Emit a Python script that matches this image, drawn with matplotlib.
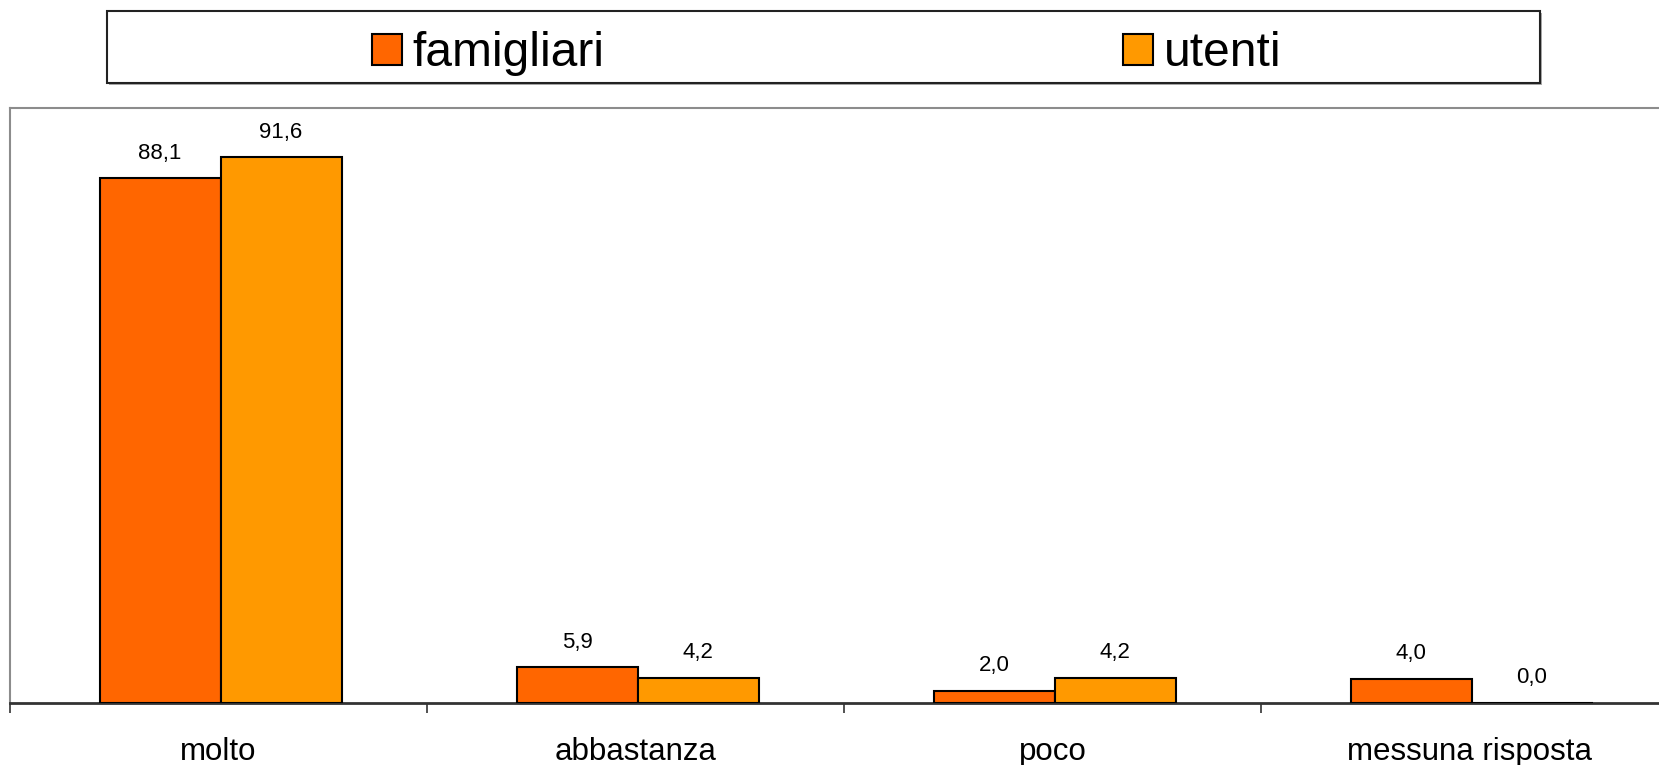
import numpy as np
import matplotlib
matplotlib.use("Agg")
import matplotlib.pyplot as plt
from matplotlib.patches import Rectangle

# dati
categorie = ["molto", "abbastanza", "poco", "messuna risposta"]
famigliari = [88.1, 5.9, 2.0, 4.0]
utenti = [91.6, 4.2, 4.2, 0.0]

plt.rcParams['font.family'] = ['Liberation Sans', 'DejaVu Sans']

W, H = 1659, 765
fig = plt.figure(figsize=(W / 100, H / 100), dpi=100)

# area del grafico (in pixel): sinistra 10, sopra 107.5, base 702.5, larghezza categoria 417
ax = fig.add_axes([10 / W, (H - 702.5) / H, 1668 / W, (702.5 - 107.5) / H])

x = np.arange(len(categorie))
w = 0.29
b1 = ax.bar(x - w / 2 + 0.005, famigliari, w, color="#FF6600", edgecolor="black",
            linewidth=1.5, label="famigliari", zorder=3)
b2 = ax.bar(x + w / 2 + 0.005, utenti, w, color="#FF9900", edgecolor="black",
            linewidth=1.5, label="utenti", zorder=3)

for barre, valori in ((b1, famigliari), (b2, utenti)):
    for r, v in zip(barre, valori):
        ax.annotate(f"{v:.1f}".replace(".", ","),
                    (r.get_x() + r.get_width() / 2, r.get_height()),
                    xytext=(0, 14), textcoords="offset points",
                    ha="center", va="baseline", fontsize=16)

ax.set_xlim(-0.5, len(categorie) - 0.5)
ax.set_ylim(0, 100)
ax.set_yticks([])

ax.set_xticks(x)
ax.set_xticklabels(categorie, fontsize=22.5)
ax.tick_params(axis="x", which="major", length=0, pad=25)
ax.set_xticks(np.arange(len(categorie) + 1) - 0.5, minor=True)
ax.tick_params(axis="x", which="minor", length=7.5, width=1.2, color="#333333",
               direction="out")

for s in ("left", "top", "right"):
    ax.spines[s].set_color("#8c8c8c")
    ax.spines[s].set_linewidth(1.5)
ax.spines["bottom"].set_color("#333333")
ax.spines["bottom"].set_linewidth(2)

# riquadro della legenda con ombra
fig.patches.append(Rectangle((109 / W, 1 - 84.5 / H), 1433 / W, 72 / H,
                             transform=fig.transFigure, facecolor="#aaaaaa",
                             edgecolor="none", zorder=0))
fig.patches.append(Rectangle((107 / W, 1 - 82.5 / H), 1433 / W, 72 / H,
                             transform=fig.transFigure, facecolor="white",
                             edgecolor="#222222", linewidth=1.5, zorder=1))

fig.legend(handles=[b1, b2], loc="center left",
           bbox_to_anchor=(372 / W, 1 - 54 / H), ncol=2, frameon=False,
           fontsize=34.5, borderaxespad=0, borderpad=0,
           handlelength=0.63, handleheight=0.63, handletextpad=0.22,
           columnspacing=10.82)

fig.savefig("out.png", dpi=100)
